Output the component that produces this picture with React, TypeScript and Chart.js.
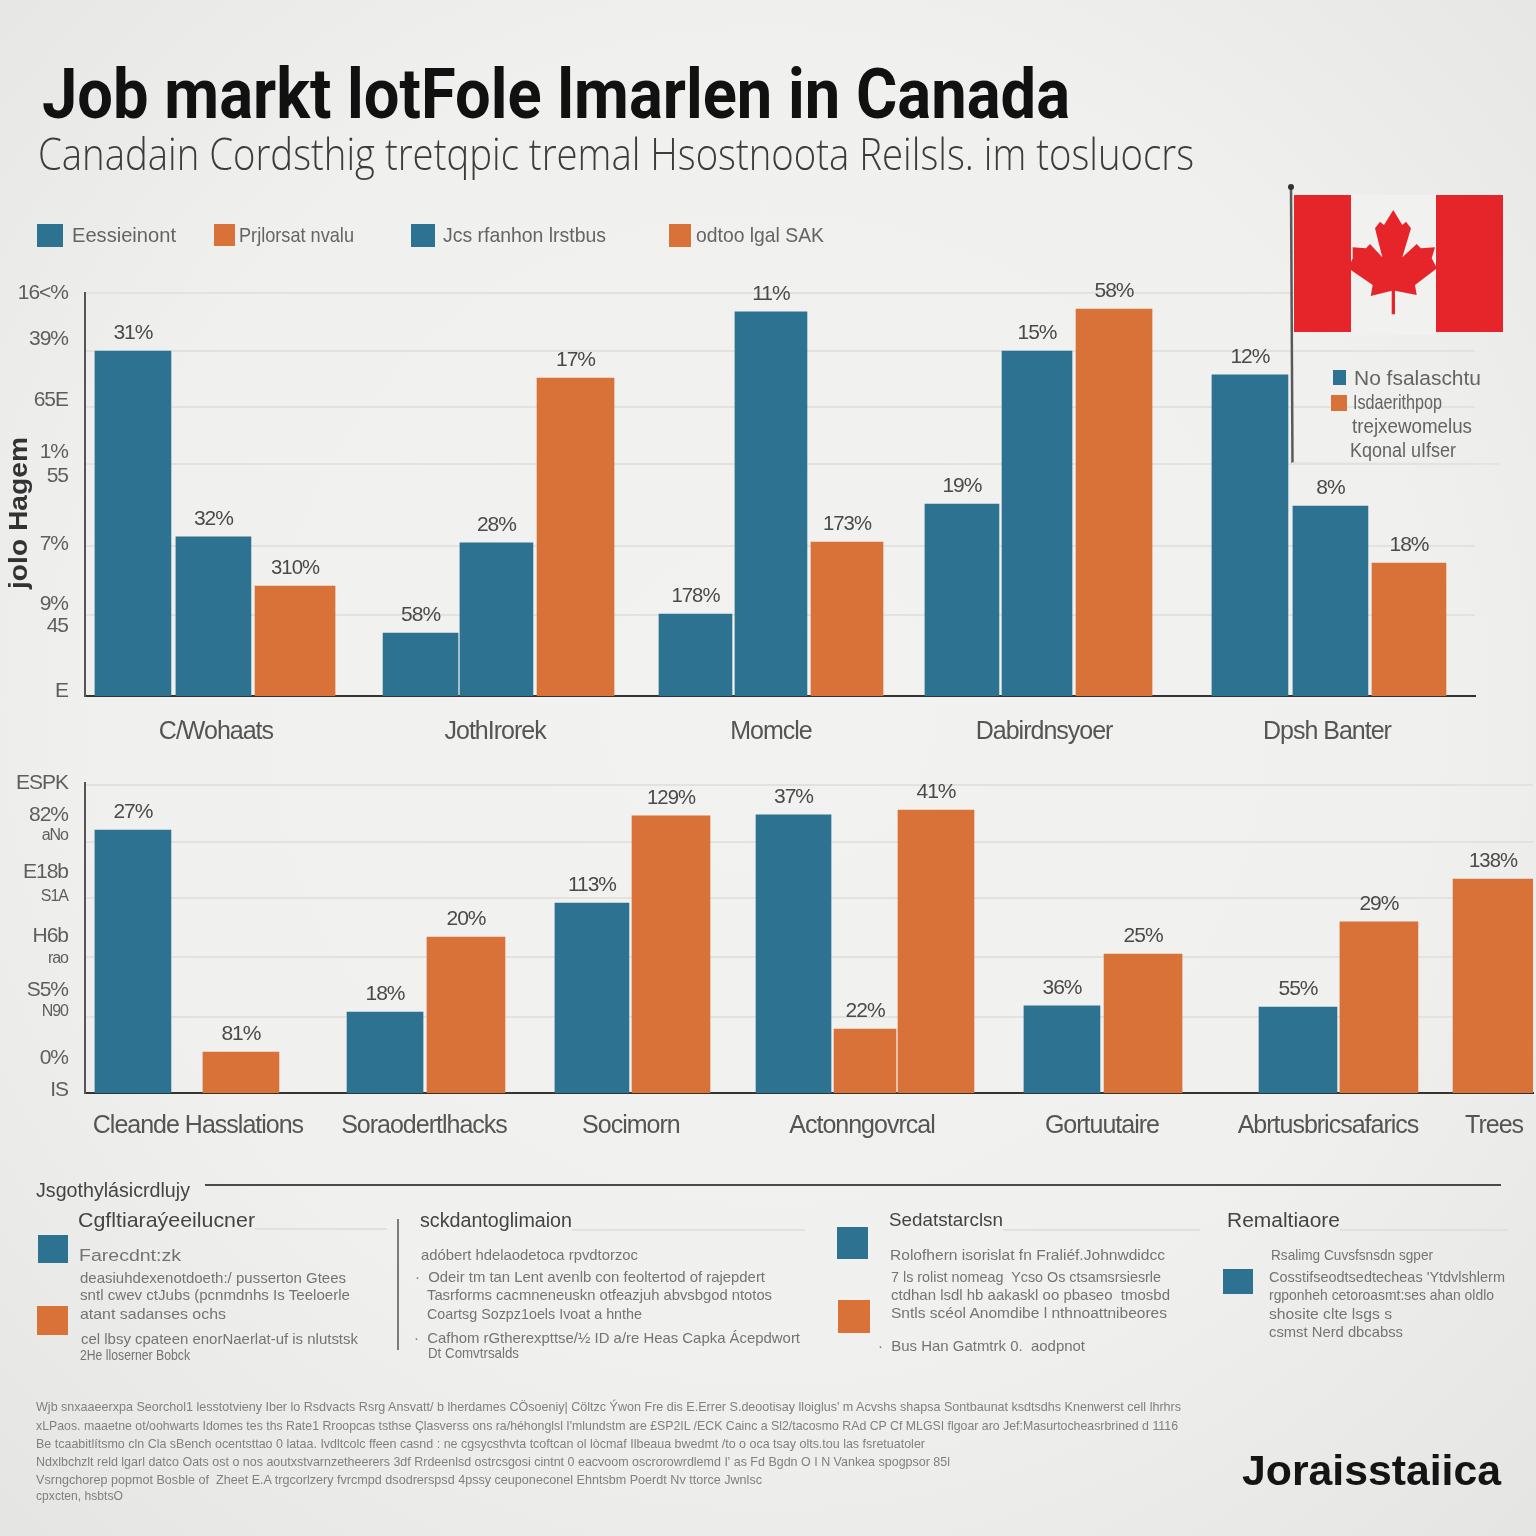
import React, { useEffect, useRef } from "react";
import { Chart, registerables } from "chart.js";

Chart.register(...registerables);

// ---------- data ----------
const topCategories = ["C/Wohaats", "JothIrorek", "Momcle", "Dabirdnsyoer", "Dpsh Banter"];
const topSeriesA = [85.6, 15.6, 20.3, 47.6, 79.7];
const topSeriesB = [39.5, 38, 95.3, 85.6, 47.1];
const topSeriesC = [27.3, 78.9, 38.2, 96, 33];
const topLabelsA = ["31%", "58%", "178%", "19%", "12%"];
const topLabelsB = ["32%", "28%", "11%", "15%", "8%"];
const topLabelsC = ["310%", "17%", "173%", "58%", "18%"];
const topTickValues = [100, 88.6, 73.4, 60.5, 54.6, 37.7, 22.8, 17.4, 1.2];
const topTickLabels = ["16<%", "39%", "65E", "1%", "55", "7%", "9%", "45", "E"];
const topGridValues = [100, 85.6, 71.7, 57.6, 37.2, 20];

const bottomCategories = ["Cleande Hasslations", "Soraodertlhacks", "Socimorn", "Actonngovrcal", "Gortuutaire", "Abrtusbricsafarics", "Trees"];
const bottomBlue = [84.8, 26.1, 61.3, 89.7, 28.1, 27.7, null];
const bottomOrange = [13.2, 50.3, 89.4, 91.3, 44.8, 55.2, 69];
const bottomOrangeExtra = [null, null, null, 20.6, null, null, null];
const bottomBlueLabels = ["27%", "18%", "113%", "37%", "36%", "55%", ""];
const bottomOrangeLabels = ["81%", "20%", "129%", "41%", "25%", "29%", "138%"];
const bottomExtraLabels = ["", "", "", "22%", "", "", ""];
const bottomTickValues = [100, 89.7, 82.9, 71.3, 63.2, 50.6, 43.5, 33.2, 26.1, 11.3, 1];
const bottomTickLabels = ["ESPK", "82%", "aNo", "E18b", "S1A", "H6b", "rao", "S5%", "N90", "0%", "IS"];
const bottomTickSmall = [false, false, true, false, true, false, true, false, true, false, false];
const bottomGridValues = [99.4, 81, 62.9, 43.9, 24.5];

// ---------- layout (axis units are percent of the axis length) ----------
const BLUE = "#2d7291";
const ORANGE = "#d87238";
const TOP_CENTRES = [[3.45, 9.24, 15.11], [24.14, 29.6, 35.29], [43.92, 49.35, 54.82], [63.09, 68.49, 74.03], [83.81, 89.6, 95.25]];
const TOP_WIDTHS = [[76, 75, 80], [75, 73, 77], [73, 72, 72], [74, 70, 76], [76, 75, 74]];
const TOP_CAT_POS = [9.42, 29.5, 49.35, 69, 89.35];
const BOT_BLUE_POS = [3.31, 20.72, 35.01, 48.93, 67.47, 83.77, 0];
const BOT_BLUE_W = [76, 76, 74, 75, 76, 78, 0];
const BOT_ORANGE_POS = [10.77, 26.31, 40.47, 58.77, 73.07, 89.36, 97.24];
const BOT_ORANGE_W = [76, 78, 78, 76, 78, 78, 80];
const BOT_EXTRA_POS = [0, 0, 0, 53.87, 0, 0, 0];
const BOT_EXTRA_W = [0, 0, 0, 62, 0, 0, 0];
const BOT_CAT_POS = [7.8, 23.41, 37.7, 53.66, 70.23, 85.84, 97.31];

type Bar = { x: number; y: number; w: number; color: string; label: string };

const topBars: Bar[] = [];
topCategories.forEach((_, g) => {
  topBars.push({ x: TOP_CENTRES[g][0], y: topSeriesA[g], w: TOP_WIDTHS[g][0], color: BLUE, label: topLabelsA[g] });
  topBars.push({ x: TOP_CENTRES[g][1], y: topSeriesB[g], w: TOP_WIDTHS[g][1], color: BLUE, label: topLabelsB[g] });
  topBars.push({ x: TOP_CENTRES[g][2], y: topSeriesC[g], w: TOP_WIDTHS[g][2], color: ORANGE, label: topLabelsC[g] });
});
const bottomBars: Bar[] = [];
bottomCategories.forEach((_, g) => {
  const b = bottomBlue[g], o = bottomOrange[g], e = bottomOrangeExtra[g];
  if (b != null) bottomBars.push({ x: BOT_BLUE_POS[g], y: b, w: BOT_BLUE_W[g], color: BLUE, label: bottomBlueLabels[g] });
  if (e != null) bottomBars.push({ x: BOT_EXTRA_POS[g], y: e, w: BOT_EXTRA_W[g], color: ORANGE, label: bottomExtraLabels[g] });
  if (o != null) bottomBars.push({ x: BOT_ORANGE_POS[g], y: o, w: BOT_ORANGE_W[g], color: ORANGE, label: bottomOrangeLabels[g] });
});

const AXIS_FONT = "'Liberation Sans', sans-serif";

const barLabelPlugin = {
  id: "barLabels",
  beforeDraw(chart: any) {
    chart.ctx.letterSpacing = "-1px";
  },
  afterDatasetsDraw(chart: any) {
    const ctx = chart.ctx;
    ctx.save();
    ctx.font = `21px ${AXIS_FONT}`;
    ctx.fillStyle = "#4a4a4a";
    ctx.textAlign = "center";
    ctx.textBaseline = "middle";
    chart.data.datasets.forEach((ds: any, i: number) => {
      const el = chart.getDatasetMeta(i).data[0];
      if (el && ds.valueLabel) ctx.fillText(ds.valueLabel, el.x, el.y - 18, 48);
    });
    ctx.restore();
  },
};

type Cfg = {
  bars: Bar[]; cats: string[]; catPos: number[]; tickVals: number[]; tickLabels: string[]; small?: boolean[];
  gridVals: number[]; padTop: number; padRight: number; xHeight: number; xPad: number;
};

function makeChart(canvas: HTMLCanvasElement, c: Cfg) {
  const merged = [
    ...c.tickVals.map((value, i) => ({ value, label: c.tickLabels[i], grid: false, small: c.small ? c.small[i] : false })),
    ...c.gridVals.map((value) => ({ value, label: "", grid: true, small: false })),
  ];
  return new Chart(canvas, {
    type: "bar",
    data: {
      datasets: c.bars.map((b) => ({
        data: [{ x: b.x, y: b.y }],
        backgroundColor: b.color,
        barThickness: b.w,
        grouped: false,
        valueLabel: b.label,
      })) as any,
    },
    options: {
      animation: false,
      responsive: false,
      maintainAspectRatio: false,
      layout: { padding: { top: c.padTop, right: c.padRight, left: 0, bottom: 0 } },
      plugins: { legend: { display: false }, title: { display: false }, tooltip: { enabled: false } },
      scales: {
        x: {
          type: "linear",
          min: 0,
          max: 100,
          offset: false,
          grid: { display: false, drawTicks: false },
          border: { color: "#333", width: 2 },
          afterBuildTicks: (s: any) => { s.ticks = c.catPos.map((value) => ({ value })); },
          afterFit: (s: any) => { s.height = c.xHeight; s.paddingLeft = 0; s.paddingRight = 0; },
          ticks: {
            autoSkip: false, maxRotation: 0, minRotation: 0, padding: c.xPad,
            color: "#555", font: { family: AXIS_FONT, size: 25 },
            callback: (_v: any, i: number) => c.cats[i],
          },
        },
        y: {
          type: "linear",
          min: 0,
          max: 100,
          afterBuildTicks: (s: any) => { s.ticks = merged.map((m) => ({ value: m.value })); },
          afterFit: (s: any) => { s.width = 85; s.paddingTop = 0; s.paddingBottom = 0; },
          grid: {
            drawTicks: false,
            color: (ctx: any) => (merged[ctx.index] && merged[ctx.index].grid ? "#e2e2e1" : "rgba(0,0,0,0)"),
            lineWidth: 2,
          },
          border: { color: "#555", width: 2 },
          ticks: {
            autoSkip: false, padding: 17, color: "#5e5e5e",
            font: (ctx: any) => ({ family: AXIS_FONT, size: merged[ctx.index] && merged[ctx.index].small ? 16 : 21 }),
            callback: (_v: any, i: number) => merged[i].label,
          },
        },
      },
    } as any,
    plugins: [barLabelPlugin],
  });
}

// ---------- overlay text ----------
type Txt = [number, number, number, number, string];
const GREY_BODY = "#747474";
const bodyLines: Txt[] = [
  [79, 1261, 102, 17, "Farecdnt:zk"],
  [80, 1283, 266, 14.5, "deasiuhdexenotdoeth:/ pusserton Gtees"],
  [80, 1300, 270, 14.5, "sntl cwev ctJubs (pcnmdnhs Is Teeloerle"],
  [80, 1319, 146, 14.5, "atant sadanses ochs"],
  [81, 1344, 277, 14.5, "cel lbsy cpateen enorNaerlat-uf is nlutstsk"],
  [80, 1360, 110, 14.5, "2He lloserner Bobck"],
  [421, 1260, 217, 15, "adóbert hdelaodetoca rpvdtorzoc"],
  [415, 1282, 350, 14.5, "·  Odeir tm tan Lent avenlb con feoltertod of rajepdert"],
  [427, 1300, 345, 14.5, "Tasrforms cacmneneuskn otfeazjuh abvsbgod ntotos"],
  [427, 1319, 215, 14.5, "Coartsg Sozpz1oels Ivoat a hnthe"],
  [414, 1343, 386, 14.5, "·  Cafhom rGtherexpttse/½ ID a/re Heas Capka Ácepdwort"],
  [428, 1358, 91, 14.5, "Dt Comvtrsalds"],
  [890, 1260, 275, 15, "Rolofhern isorislat fn Fraliéf.Johnwdidcc"],
  [891, 1282, 270, 14.5, "7 ls rolist nomeag  Ycso Os ctsamsrsiesrle"],
  [891, 1300, 279, 14.5, "ctdhan lsdl hb aakaskl oo pbaseo  tmosbd"],
  [891, 1318, 276, 14.5, "Sntls scéol Anomdibe l nthnoattnibeores"],
  [878, 1351, 207, 14.5, "·  Bus Han Gatmtrk 0.  aodpnot"],
  [1271, 1260, 162, 15, "Rsalimg Cuvsfsnsdn sgper"],
  [1269, 1282, 236, 14.5, "Cosstifseodtsedtecheas 'Ytdvlshlerm"],
  [1269, 1300, 225, 14.5, "rgponheh cetoroasmt:ses ahan oldlo"],
  [1269, 1319, 123, 14.5, "shosite clte lsgs s"],
  [1269, 1337, 134, 14.5, "csmst Nerd dbcabss"],
];
const headingLines: Txt[] = [
  [36, 1197, 154, 20, "Jsgothylásicrdlujy"],
  [78, 1227, 177, 21, "Cgfltiaraýeeilucner"],
  [420, 1227, 152, 20, "sckdantoglimaion"],
  [889, 1226, 114, 19, "Sedatstarclsn"],
  [1227, 1227, 113, 20, "Remaltiaore"],
];
const footerLines: Txt[] = [
  [36, 1411, 1145, 13.5, "Wjb snxaaeerxpa Seorchol1 lesstotvieny Iber lo Rsdvacts Rsrg Ansvatt/ b lherdames CÖsoeniy| Cöltzc Ýwon Fre dis E.Errer S.deootisay lloiglus' m Acvshs shapsa Sontbaunat ksdtsdhs Knenwerst cell lhrhrs"],
  [36, 1430, 1142, 13.5, "xLPaos. maaetne ot/oohwarts Idomes tes ths Rate1 Rroopcas tsthse Çlasverss ons ra/héhonglsl I'mlundstm are £SP2IL /ECK Cainc a Sl2/tacosmo RAd CP Cf MLGSI flgoar aro Jef:Masurtocheasrbrined d 1116"],
  [36, 1448, 889, 13.5, "Be tcaabitlítsmo cln Cla sBench ocentsttao 0 lataa. Ivdltcolc ffeen casnd : ne cgsycsthvta tcoftcan ol lòcmaf Ilbeaua bwedmt /to o oca tsay olts.tou las fsretuatoler"],
  [36, 1466, 914, 13.5, "Ndxlbchzlt reld lgarl datco Oats ost o nos aoutxstvarnzetheerers 3df Rrdeenlsd ostrcsgosi cintnt 0 eacvoom oscrorowrdlemd I' as Fd Bgdn O I N Vankea spogpsor 85l"],
  [36, 1484, 726, 13.5, "Vsrngchorep popmot Bosble of  Zheet E.A trgcorlzery fvrcmpd dsodrerspsd 4pssy ceuponeconel Ehntsbm Poerdt Nv ttorce Jwnlsc"],
  [36, 1500, 87, 13.5, "cpxcten, hsbtsO"],
];
const legendLines: Txt[] = [
  [72, 242, 104, 21, "Eessieinont"],
  [239, 242, 115, 21, "Prjlorsat nvalu"],
  [443, 242, 163, 21, "Jcs rfanhon lrstbus"],
  [696, 242, 128, 21, "odtoo lgal SAK"],
  [1354, 385, 127, 20, "No fsalaschtu"],
  [1353, 409, 89, 20, "Isdaerithpop"],
  [1352, 433, 120, 20, "trejxewomelus"],
  [1350, 457, 106, 20, "Kqonal uIfser"],
];
const squares: [number, number, number, number, string][] = [
  [37, 224, 26, 23, BLUE], [214, 224, 21, 22, ORANGE], [411, 224, 24, 23, BLUE], [669, 224, 22, 23, ORANGE],
  [1333, 370, 13, 15, BLUE], [1331, 395, 16, 16, ORANGE],
  [38, 1235, 30, 28, BLUE], [37, 1306, 31, 29, ORANGE], [837, 1227, 31, 32, BLUE], [838, 1300, 32, 33, ORANGE], [1223, 1269, 30, 25, BLUE],
];
const LEAF = "1393.3,210 1402.3,225 1406,221.7 1411,228.3 1402.3,257.3 1416.7,244 1420.7,248.3 1435,247.3 1431.7,258.3 1437,268.3 1415,285 1416.7,295 1395,290.7 1395,314.3 1391.7,314.3 1391.7,290.7 1370.7,296 1372.7,285 1348.3,268.3 1352.7,258.3 1352.7,247.3 1366,248.3 1370,244 1382.3,257.3 1375,228.3 1380,221.7 1384,225";

const SANS = "'Liberation Sans', sans-serif";

function Lines({ rows, color, weight, family }: { rows: Txt[]; color: string; weight?: number; family?: string }) {
  return (
    <>
      {rows.map(([x, y, w, size, text], i) => (
        <text key={i} x={x} y={y} textLength={w} lengthAdjust="spacingAndGlyphs" fontSize={size} fill={color}
          fontWeight={weight || 400} fontFamily={family || SANS} xmlSpace="preserve">{text}</text>
      ))}
    </>
  );
}

export default function App() {
  const topRef = useRef<HTMLCanvasElement>(null);
  const botRef = useRef<HTMLCanvasElement>(null);
  useEffect(() => {
    document.body.style.margin = "0";
    const a = makeChart(topRef.current!, {
      bars: topBars, cats: topCategories, catPos: TOP_CAT_POS, tickVals: topTickValues, tickLabels: topTickLabels,
      gridVals: topGridValues, padTop: 23, padRight: 61, xHeight: 64, xPad: 21,
    });
    const b = makeChart(botRef.current!, {
      bars: bottomBars, cats: bottomCategories, catPos: BOT_CAT_POS, tickVals: bottomTickValues, tickLabels: bottomTickLabels,
      small: bottomTickSmall, gridVals: bottomGridValues, padTop: 18, padRight: 3, xHeight: 57, xPad: 18,
    });
    return () => { a.destroy(); b.destroy(); };
  }, []);
  return (
    <div style={{ position: "relative", width: 1536, height: 1536, overflow: "hidden",
      background: "radial-gradient(ellipse 78% 78% at 50% 46%, #f2f2f1 0%, #f0f0ef 55%, #e3e3e2 100%)" }}>
      <canvas ref={topRef} width={1536} height={490} style={{ position: "absolute", left: 0, top: 270, width: 1536, height: 490 }} />
      <canvas ref={botRef} width={1536} height={385} style={{ position: "absolute", left: 0, top: 765, width: 1536, height: 385 }} />
      <svg width={1536} height={1536} style={{ position: "absolute", left: 0, top: 0 }}>
        <text x={42} y={118} textLength={1028} lengthAdjust="spacingAndGlyphs" fontSize={70} fontWeight={700} fill="#111" fontFamily="Roboto, sans-serif">Job markt lotFole lmarlen in Canada</text>
        <text x={38} y={170} textLength={1156} lengthAdjust="spacingAndGlyphs" fontSize={44} fontWeight={300} fill="#3c3c3c" fontFamily="'Open Sans', sans-serif">Canadain Cordsthig tretqpic tremal Hsostnoota Reilsls. im tosluocrs</text>
        <text transform="translate(27,589) rotate(-90)" textLength={152} lengthAdjust="spacingAndGlyphs" fontSize={26} fontWeight={700} fill="#333" fontFamily={SANS}>jolo Hagem</text>
        {/* flag */}
        <rect x={1351} y={195} width={85} height={140} fill="#f1f1ef" />
        <rect x={1294} y={195} width={57} height={137} fill="#e6252a" />
        <rect x={1436} y={195} width={67} height={137} fill="#e6252a" />
        <polygon points={LEAF} fill="#e6252a" />
        <line x1={1291} y1={187} x2={1292.5} y2={463} stroke="#5a5a5a" strokeWidth={2.5} />
        <circle cx={1291} cy={187} r={3} fill="#333" />
        <line x1={1292} y1={463} x2={1500} y2={464} stroke="#e2e2e1" strokeWidth={1.5} />
        {squares.map(([x, y, w, h, c], i) => <rect key={i} x={x} y={y} width={w} height={h} fill={c} />)}
        <Lines rows={legendLines} color="#646464" />
        {/* notes */}
        <line x1={205} y1={1185} x2={1501} y2={1185} stroke="#4a4a4a" strokeWidth={2} />
        <line x1={255} y1={1229} x2={387} y2={1229} stroke="#dddddc" strokeWidth={1.5} />
        <line x1={572} y1={1230} x2={805} y2={1230} stroke="#dddddc" strokeWidth={1.5} />
        <line x1={1003} y1={1230} x2={1200} y2={1230} stroke="#dddddc" strokeWidth={1.5} />
        <line x1={1340} y1={1230} x2={1508} y2={1230} stroke="#dddddc" strokeWidth={1.5} />
        <line x1={398} y1={1219} x2={398} y2={1350} stroke="#555" strokeWidth={1.5} />
        <Lines rows={headingLines} color="#444" />
        <Lines rows={bodyLines} color={GREY_BODY} />
        <Lines rows={footerLines} color="#808080" />
        <text x={1242} y={1485} textLength={259} lengthAdjust="spacingAndGlyphs" fontSize={42} fontWeight={700} fill="#141414" fontFamily={SANS}>Joraisstaiica</text>
      </svg>
    </div>
  );
}
